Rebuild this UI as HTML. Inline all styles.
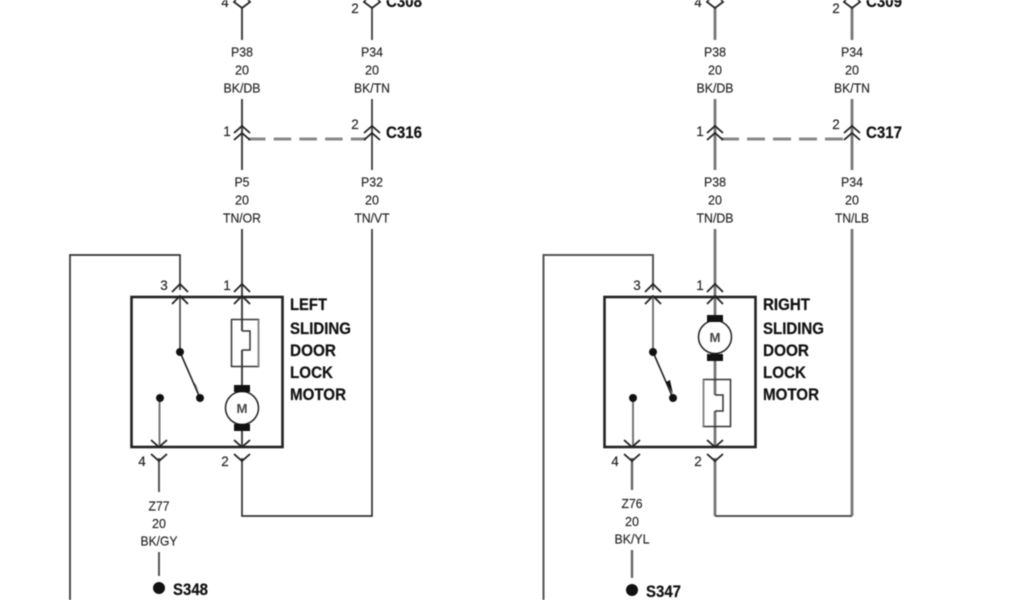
<!DOCTYPE html>
<html><head><meta charset="utf-8"><style>
html,body{margin:0;padding:0;background:#fff;width:1024px;height:600px;overflow:hidden}
svg{display:block;filter:blur(0.5px)}
text{font-family:"Liberation Sans",sans-serif;fill:#222}
.l{font-size:13px;text-anchor:middle;fill:#222;stroke:#222;stroke-width:.15}
.n{font-size:13.500px;text-anchor:middle;fill:#222;stroke:#222;stroke-width:.15}
.b,.c{font-size:16.500px;font-weight:bold;fill:#111;stroke:#111;stroke-width:.2}
.m{font-size:13px;font-weight:bold;text-anchor:middle;fill:#444}
.ch{fill:none;stroke:#222;stroke-width:1.800}
</style></head><body>
<svg width="1024" height="600" viewBox="0 0 1024 600" xmlns="http://www.w3.org/2000/svg">
<!-- LEFT -->
<g fill="none">
<path d="M242 8V40M242 99V170M242 229V331M242 350V392" stroke="#444" stroke-width="2"/>
<path d="M372 8V40M372 99V170M372 229V516H242V458" stroke="#333" stroke-width="1.700"/>
<path d="M70 600V255H180V290" stroke="#333" stroke-width="1.700"/>
<path d="M248 139H366" stroke="#888" stroke-width="3" stroke-dasharray="17.500 8.200"/>
<rect x="131.500" y="297" width="151" height="150" stroke="#222" stroke-width="2.600"/>
<path d="M180 297V352" stroke="#333" stroke-width="1.500"/>
<path d="M180 352L200 398" stroke="#222" stroke-width="1.600"/>
<path d="M159.500 398V447" stroke="#777" stroke-width="2"/>
<path d="M242 425V447" stroke="#444" stroke-width="2"/>
<path d="M159 458V492M159 552V576" stroke="#555" stroke-width="2"/>
<rect x="231.500" y="319.500" width="27" height="47" stroke="#333" stroke-width="1.500"/>
<path d="M258.500 319.500V366.500" stroke="#888" stroke-width="2"/>
<path d="M242 331H250V350H242" stroke="#333" stroke-width="1.500"/>
<circle cx="242" cy="408" r="16.500" fill="#fff" stroke="#222" stroke-width="1.500"/>
<path class="ch" d="M172 292L180 284L188 292M172 304L180 296L188 304"/>
<path class="ch" d="M234 292L242 284L250 292M234 304L242 296L250 304"/>
<path class="ch" d="M151 440L159 447L167 440M151 454L159 461L167 454"/>
<path class="ch" d="M234 440L242 447L250 440M234 454L242 461L250 454"/>
<path class="ch" d="M234 133L242 126L250 133M234 140L242 133L250 140"/>
<path class="ch" d="M364 133L372 126L380 133M364 140L372 133L380 140"/>
<path class="ch" d="M238 -3L234 2L242 8L250 2L246 -3"/>
<path class="ch" d="M368 -3L364 2L372 8L380 2L376 -3"/>
</g>
<g fill="#111">
<circle cx="180" cy="352" r="4"/><circle cx="200" cy="398" r="4"/><circle cx="160" cy="398" r="4"/>
<circle cx="159" cy="588" r="6"/>
<rect x="234" y="385" width="16" height="7"/><rect x="234" y="424" width="16" height="7"/>
<path d="M194 382L200 394L196 385Z"/>
</g>
<text class="m" x="242" y="413" textLength="11" lengthAdjust="spacingAndGlyphs">M</text>
<text class="l" x="242" y="56.500" textLength="22" lengthAdjust="spacingAndGlyphs">P38</text><text class="l" x="242" y="74.500" textLength="14" lengthAdjust="spacingAndGlyphs">20</text><text class="l" x="242" y="92.500" textLength="37" lengthAdjust="spacingAndGlyphs">BK/DB</text>
<text class="l" x="372" y="56.500" textLength="22" lengthAdjust="spacingAndGlyphs">P34</text><text class="l" x="372" y="74.500" textLength="14" lengthAdjust="spacingAndGlyphs">20</text><text class="l" x="372" y="92.500" textLength="36" lengthAdjust="spacingAndGlyphs">BK/TN</text>
<text class="l" x="242" y="186.500" textLength="15" lengthAdjust="spacingAndGlyphs">P5</text><text class="l" x="242" y="204.500" textLength="14" lengthAdjust="spacingAndGlyphs">20</text><text class="l" x="242" y="222.500" textLength="38" lengthAdjust="spacingAndGlyphs">TN/OR</text>
<text class="l" x="372" y="186.500" textLength="22" lengthAdjust="spacingAndGlyphs">P32</text><text class="l" x="372" y="204.500" textLength="14" lengthAdjust="spacingAndGlyphs">20</text><text class="l" x="372" y="222.500" textLength="35" lengthAdjust="spacingAndGlyphs">TN/VT</text>
<text class="l" x="159" y="510.500" textLength="21" lengthAdjust="spacingAndGlyphs">Z77</text><text class="l" x="159" y="528" textLength="14" lengthAdjust="spacingAndGlyphs">20</text><text class="l" x="159" y="545.500" textLength="37" lengthAdjust="spacingAndGlyphs">BK/GY</text>
<text class="n" x="225" y="7">4</text><text class="n" x="355" y="13">2</text>
<text class="n" x="227" y="136">1</text><text class="n" x="355" y="129">2</text>
<text class="n" x="164" y="290">3</text><text class="n" x="227" y="290">1</text>
<text class="n" x="142" y="466">4</text><text class="n" x="225" y="466">2</text>
<text class="c" x="386" y="7" textLength="36" lengthAdjust="spacingAndGlyphs">C308</text><text class="c" x="386" y="138" textLength="36" lengthAdjust="spacingAndGlyphs">C316</text>
<text class="c" x="173" y="595" textLength="35" lengthAdjust="spacingAndGlyphs">S348</text>
<text class="b" x="290" y="310" textLength="37" lengthAdjust="spacingAndGlyphs">LEFT</text><text class="b" x="290" y="334" textLength="61" lengthAdjust="spacingAndGlyphs">SLIDING</text><text class="b" x="290" y="356" textLength="46" lengthAdjust="spacingAndGlyphs">DOOR</text><text class="b" x="290" y="378" textLength="43" lengthAdjust="spacingAndGlyphs">LOCK</text><text class="b" x="290" y="400" textLength="56" lengthAdjust="spacingAndGlyphs">MOTOR</text>
<!-- RIGHT -->
<g fill="none">
<path d="M715 8V40M715 99V170M715 229V320M715 355V395M715 411V447M715 458V516" stroke="#777" stroke-width="2.800"/>
<path d="M852 8V40M852 99V170M852 229V516" stroke="#777" stroke-width="2.800"/>
<path d="M715 516H852" stroke="#555" stroke-width="2"/>
<path d="M543.500 600V255H653V290" stroke="#555" stroke-width="2"/>
<path d="M721 139H845" stroke="#888" stroke-width="3" stroke-dasharray="18 8"/>
<rect x="604.500" y="297" width="151" height="150" stroke="#222" stroke-width="2.600"/>
<path d="M653 297V352" stroke="#777" stroke-width="2"/>
<path d="M653 352L673 398" stroke="#222" stroke-width="1.600"/>
<path d="M633 398V447" stroke="#777" stroke-width="2"/>
<path d="M632 458V490M632 550V578" stroke="#666" stroke-width="2.400"/>
<rect x="703.500" y="379.500" width="27" height="47" stroke="#333" stroke-width="1.500"/>
<path d="M703.500 379.500V426.500" stroke="#888" stroke-width="2"/>
<path d="M715 395H723V411H715" stroke="#333" stroke-width="1.500"/>
<circle cx="715" cy="337" r="16.500" fill="#fff" stroke="#222" stroke-width="1.500"/>
<path class="ch" d="M645 292L653 284L661 292M645 304L653 296L661 304"/>
<path class="ch" d="M707 292L715 284L723 292M707 304L715 296L723 304"/>
<path class="ch" d="M624 440L632 447L640 440M624 454L632 461L640 454"/>
<path class="ch" d="M707 440L715 447L723 440M707 454L715 461L723 454"/>
<path class="ch" d="M707 133L715 126L723 133M707 140L715 133L723 140"/>
<path class="ch" d="M844 133L852 126L860 133M844 140L852 133L860 140"/>
<path class="ch" d="M711 -3L707 2L715 8L723 2L719 -3"/>
<path class="ch" d="M848 -3L844 2L852 8L860 2L856 -3"/>
</g>
<g fill="#111">
<circle cx="653" cy="352" r="4"/><circle cx="673" cy="398" r="4"/><circle cx="633" cy="398" r="4"/>
<circle cx="632" cy="590" r="6"/>
<rect x="707" y="315" width="16" height="7"/><rect x="707" y="354" width="16" height="7"/>
<path d="M666 382L673 394L670 380Z"/>
</g>
<text class="m" x="715" y="342" textLength="11" lengthAdjust="spacingAndGlyphs">M</text>
<text class="l" x="715" y="56.500" textLength="22" lengthAdjust="spacingAndGlyphs">P38</text><text class="l" x="715" y="74.500" textLength="14" lengthAdjust="spacingAndGlyphs">20</text><text class="l" x="715" y="92.500" textLength="37" lengthAdjust="spacingAndGlyphs">BK/DB</text>
<text class="l" x="852" y="56.500" textLength="22" lengthAdjust="spacingAndGlyphs">P34</text><text class="l" x="852" y="74.500" textLength="14" lengthAdjust="spacingAndGlyphs">20</text><text class="l" x="852" y="92.500" textLength="36" lengthAdjust="spacingAndGlyphs">BK/TN</text>
<text class="l" x="715" y="186.500" textLength="22" lengthAdjust="spacingAndGlyphs">P38</text><text class="l" x="715" y="204.500" textLength="14" lengthAdjust="spacingAndGlyphs">20</text><text class="l" x="715" y="222.500" textLength="37" lengthAdjust="spacingAndGlyphs">TN/DB</text>
<text class="l" x="852" y="186.500" textLength="22" lengthAdjust="spacingAndGlyphs">P34</text><text class="l" x="852" y="204.500" textLength="14" lengthAdjust="spacingAndGlyphs">20</text><text class="l" x="852" y="222.500" textLength="34" lengthAdjust="spacingAndGlyphs">TN/LB</text>
<text class="l" x="632" y="508" textLength="21" lengthAdjust="spacingAndGlyphs">Z76</text><text class="l" x="632" y="526" textLength="14" lengthAdjust="spacingAndGlyphs">20</text><text class="l" x="632" y="543.500" textLength="35" lengthAdjust="spacingAndGlyphs">BK/YL</text>
<text class="n" x="698" y="7">4</text><text class="n" x="836" y="13">2</text>
<text class="n" x="700" y="136">1</text><text class="n" x="836" y="129">2</text>
<text class="n" x="637" y="290">3</text><text class="n" x="700" y="290">1</text>
<text class="n" x="615" y="466">4</text><text class="n" x="698" y="466">2</text>
<text class="c" x="866" y="7" textLength="36" lengthAdjust="spacingAndGlyphs">C309</text><text class="c" x="866" y="138" textLength="36" lengthAdjust="spacingAndGlyphs">C317</text>
<text class="c" x="646" y="597" textLength="35" lengthAdjust="spacingAndGlyphs">S347</text>
<text class="b" x="763" y="310" textLength="47" lengthAdjust="spacingAndGlyphs">RIGHT</text><text class="b" x="763" y="334" textLength="61" lengthAdjust="spacingAndGlyphs">SLIDING</text><text class="b" x="763" y="356" textLength="46" lengthAdjust="spacingAndGlyphs">DOOR</text><text class="b" x="763" y="378" textLength="43" lengthAdjust="spacingAndGlyphs">LOCK</text><text class="b" x="763" y="400" textLength="56" lengthAdjust="spacingAndGlyphs">MOTOR</text>
</svg>
</body></html>
